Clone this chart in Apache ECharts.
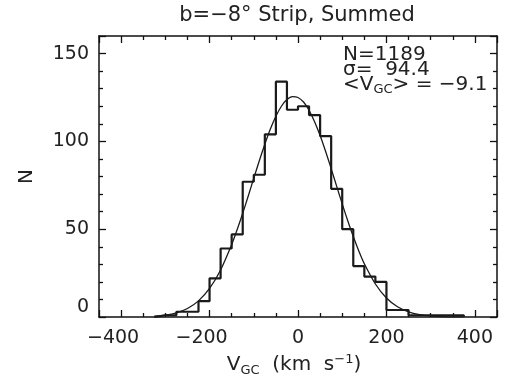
<!DOCTYPE html>
<html>
<head>
<meta charset="utf-8">
<script src="https://cdn.jsdelivr.net/npm/echarts@6/dist/echarts.min.js"></script>
<style>html,body{margin:0;padding:0;background:#fff;}#c{width:505px;height:387px;}</style>
</head>
<body>
<div id="c"></div>
<script>
// Histogram bins (left edges, km/s) and counts
const binLeft = [-325,-300,-275,-250,-225,-200,-175,-150,-125,-100,-75,-50,-25,0,25,50,75,100,125,150,175,200,225,250,275,300,325,350];
const counts  = [1,1,3,3,9,22,39,47,77,81,104,134,118,120,115,103,73,50,29,23,20,4,4,1,1,1,1,1];
const binWidth = 25;
// Fitted curve
const curveX = [-325,-300,-275,-250,-225,-200,-175,-150,-137.5,-125,-112.5,-100,-87.5,-75,-62.5,-50,-37.5,-25,-12.5,0,12.5,25,37.5,50,62.5,75,87.5,100,112.5,125,137.5,150,175,200,225,250,275,300,325,350,375];
const curveY = [0.46,1.09,2.38,4.84,9.19,16.25,26.8,41.2,49.8,59.1,68.9,79.0,89.0,98.4,107.0,114.3,120.0,123.8,125.5,125.0,122.4,117.7,111.2,103.3,94.2,84.5,74.4,64.4,54.8,45.8,37.6,30.3,18.8,10.8,5.8,2.91,1.36,0.59,0.24,0.09,0.03];
const titleText = 'b=\u22128\u00b0 Strip, Summed';
const statsLines = ['N=1189', '\u03c3=  94.4'];
const meanValue = '\u22129.1';

const histPts = [[binLeft[0], 0]];
binLeft.forEach((l, i) => { histPts.push([l, counts[i]]); histPts.push([l + binWidth, counts[i]]); });
histPts.push([binLeft[binLeft.length - 1] + binWidth, 0]);

const FONT = 'DejaVu Sans';
const lineCol = '#111';
const txtCol = '#222';
const fmtX = v => v < 0 ? '{n|\u2212' + Math.abs(v) + '}' : '{p|' + v + '}';

const chart = echarts.init(document.getElementById('c'));
const baseX = {
  type: 'value', min: -450, max: 450, splitNumber: 4,
  axisLine: { show: true, onZero: false, lineStyle: { color: lineCol, width: 1.5 } },
  axisTick: { show: true, inside: true, length: 7, lineStyle: { color: lineCol, width: 1.3 } },
  minorTick: { show: true, splitNumber: 4, length: 4, lineStyle: { color: lineCol, width: 1.3 } },
  splitLine: { show: false }, minorSplitLine: { show: false }
};
const baseY = {
  type: 'value', min: 0, max: 160, interval: 50,
  axisLine: { show: true, onZero: false, lineStyle: { color: lineCol, width: 1.5 } },
  axisTick: { show: true, inside: true, length: 7, lineStyle: { color: lineCol, width: 1.3 } },
  minorTick: { show: true, splitNumber: 5, length: 4, lineStyle: { color: lineCol, width: 1.3 } },
  splitLine: { show: false }, minorSplitLine: { show: false }
};
chart.setOption({
  animation: false,
  backgroundColor: '#fff',
  grid: { left: 99, right: 8, top: 36, bottom: 70, containLabel: false },
  xAxis: [
    Object.assign({}, baseX, {
      position: 'bottom',
      axisLabel: {
        show: true, margin: 12, showMinLabel: false, showMaxLabel: false,
        fontFamily: FONT, fontSize: 19, color: txtCol,
        formatter: fmtX,
        rich: { n: { fontFamily: FONT, fontSize: 19, color: txtCol, padding: [0, 16, 0, 0] }, p: { fontFamily: FONT, fontSize: 19, color: txtCol } }
      },
      name: '{a|V}{sub|GC}{a|  (km  s}{sup|\u22121}{a|)}',
      nameLocation: 'middle', nameGap: 26,
      nameTextStyle: {
        padding: [0, 8, 0, 0],
        rich: {
          a: { fontFamily: FONT, fontSize: 20, color: txtCol, lineHeight: 24 },
          sub: { fontFamily: FONT, fontSize: 13, color: txtCol, lineHeight: 24, verticalAlign: 'bottom' },
          sup: { fontFamily: FONT, fontSize: 13, color: txtCol, lineHeight: 24, verticalAlign: 'top' }
        }
      }
    }),
    Object.assign({}, baseX, { position: 'top', axisLabel: { show: false } })
  ],
  yAxis: [
    Object.assign({}, baseY, {
      position: 'left',
      axisLabel: { show: true, margin: 10, showMaxLabel: false, verticalAlignMinLabel: 'bottom', fontFamily: FONT, fontSize: 19, color: txtCol },
      name: 'N', nameLocation: 'middle', nameGap: 62, nameRotate: 90,
      nameTextStyle: { fontFamily: FONT, fontSize: 20, color: txtCol }
    }),
    Object.assign({}, baseY, { position: 'right', axisLabel: { show: false } })
  ],
  graphic: [
    { type: 'text', x: 297, y: 5, style: { text: titleText, fontFamily: FONT, fontSize: 21, fill: txtCol, align: 'center', verticalAlign: 'top' } },
    { type: 'text', x: 343, y: 55, style: { text: statsLines[0], fontFamily: FONT, fontSize: 20, fill: txtCol, align: 'left', verticalAlign: 'middle' } },
    { type: 'text', x: 343, y: 69.5, style: { text: statsLines[1], fontFamily: FONT, fontSize: 20, fill: txtCol, align: 'left', verticalAlign: 'middle' } },
    { type: 'text', x: 343, y: 84.5, style: {
        text: '{a|<V}{sub|GC}{a|> = ' + meanValue + '}', align: 'left', verticalAlign: 'middle',
        rich: {
          a: { fontFamily: FONT, fontSize: 20, fill: txtCol, color: txtCol, lineHeight: 24 },
          sub: { fontFamily: FONT, fontSize: 13, fill: txtCol, color: txtCol, lineHeight: 24, verticalAlign: 'bottom' }
        } } }
  ],
  series: [
    { type: 'line', xAxisIndex: 0, yAxisIndex: 0, data: histPts, showSymbol: false, symbol: 'none',
      lineStyle: { color: '#1a1a1a', width: 2.2 }, z: 3 },
    { type: 'line', xAxisIndex: 0, yAxisIndex: 0, data: curveX.map((x, i) => [x, curveY[i]]), smooth: 0.3, showSymbol: false, symbol: 'none',
      lineStyle: { color: '#1a1a1a', width: 1.3 }, z: 4 }
  ]
});
</script>
</body>
</html>
